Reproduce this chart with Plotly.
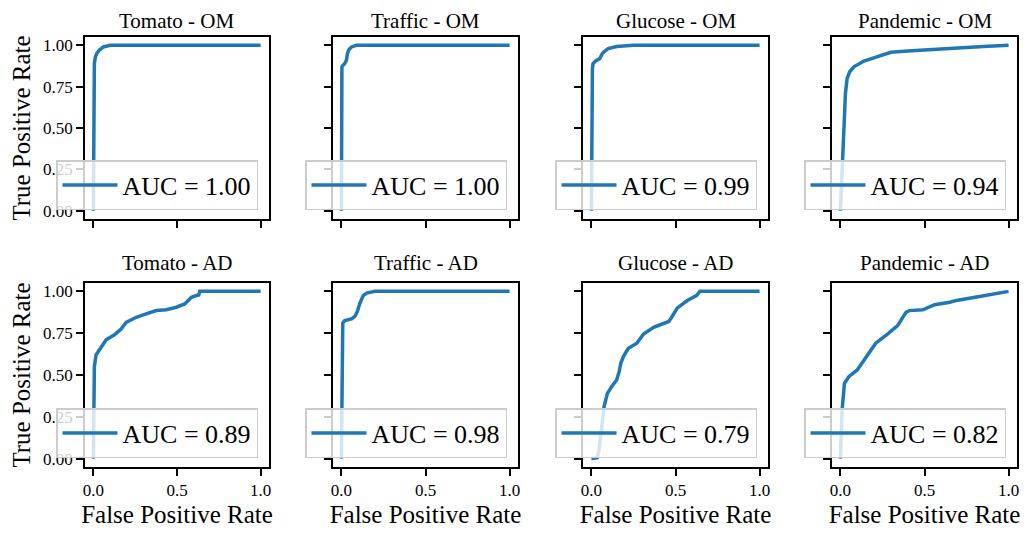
import plotly.graph_objects as go

# ---------------- data ----------------
titles = ["Tomato - OM", "Traffic - OM", "Glucose - OM", "Pandemic - OM",
          "Tomato - AD", "Traffic - AD", "Glucose - AD", "Pandemic - AD"]
auc_labels = ["AUC = 1.00", "AUC = 1.00", "AUC = 0.99", "AUC = 0.94",
              "AUC = 0.89", "AUC = 0.98", "AUC = 0.79", "AUC = 0.82"]

tomato_om_fpr = [0, 0.003, 0.006, 0.012, 0.02, 0.035, 0.06, 0.1, 1]
tomato_om_tpr = [0, 0.86, 0.89, 0.93, 0.95, 0.97, 0.99, 1, 1]

traffic_om_fpr = [0, 0.003, 0.01, 0.02, 0.03, 0.036, 0.045, 0.06, 0.09, 1]
traffic_om_tpr = [0, 0.87, 0.88, 0.89, 0.91, 0.95, 0.975, 0.99, 1, 1]

glucose_om_fpr = [0, 0.003, 0.006, 0.01, 0.025, 0.05, 0.065, 0.08, 0.1, 0.15, 0.25, 1]
glucose_om_tpr = [0, 0.8, 0.86, 0.89, 0.905, 0.92, 0.95, 0.965, 0.98, 0.993, 1, 1]

pandemic_om_fpr = [0, 0.01, 0.02, 0.03, 0.04, 0.055, 0.08, 0.11, 0.14, 0.18, 0.22, 0.26,
                   0.3, 0.4, 0.5, 0.7, 0.85, 1]
pandemic_om_tpr = [0, 0.27, 0.5, 0.71, 0.8, 0.84, 0.87, 0.89, 0.905, 0.918, 0.93, 0.945,
                   0.958, 0.965, 0.972, 0.985, 0.992, 1]

tomato_ad_fpr = [0, 0.003, 0.006, 0.016, 0.046, 0.076, 0.126, 0.166, 0.196, 0.256, 0.316,
                 0.376, 0.436, 0.496, 0.546, 0.586, 0.616, 0.63, 0.636, 1]
tomato_ad_tpr = [0, 0.3, 0.55, 0.62, 0.67, 0.71, 0.74, 0.775, 0.815, 0.845, 0.865,
                 0.885, 0.89, 0.905, 0.925, 0.965, 0.975, 0.978, 1, 1]

traffic_ad_fpr = [0, 0.003, 0.008, 0.02, 0.04, 0.06, 0.08, 0.095, 0.11, 0.13, 0.15, 0.2, 1]
traffic_ad_tpr = [0, 0.78, 0.81, 0.825, 0.83, 0.835, 0.85, 0.88, 0.93, 0.975, 0.99, 1, 1]

glucose_ad_fpr = [0, 0.035, 0.045, 0.055, 0.065, 0.075, 0.095, 0.12, 0.15, 0.165, 0.175, 0.19,
                  0.22, 0.27, 0.31, 0.37, 0.46, 0.48, 0.51, 0.57, 0.61, 0.625, 0.645, 1]
glucose_ad_tpr = [0, 0.005, 0.05, 0.12, 0.22, 0.31, 0.39, 0.43, 0.47, 0.52, 0.57, 0.61,
                  0.66, 0.69, 0.745, 0.785, 0.82, 0.85, 0.9, 0.945, 0.965, 0.975, 1, 1]

pandemic_ad_fpr = [0, 0.01, 0.024, 0.03, 0.05, 0.1, 0.14, 0.18, 0.21, 0.28, 0.34, 0.39, 0.41,
                   0.49, 0.56, 0.65, 0.69, 0.81, 0.93, 1]
pandemic_ad_tpr = [0, 0.29, 0.45, 0.46, 0.49, 0.53, 0.59, 0.65, 0.69, 0.745, 0.795, 0.875, 0.885,
                   0.89, 0.92, 0.935, 0.946, 0.966, 0.986, 1]

fprs = [tomato_om_fpr, traffic_om_fpr, glucose_om_fpr, pandemic_om_fpr,
        tomato_ad_fpr, traffic_ad_fpr, glucose_ad_fpr, pandemic_ad_fpr]
tprs = [tomato_om_tpr, traffic_om_tpr, glucose_om_tpr, pandemic_om_tpr,
        tomato_ad_tpr, traffic_ad_tpr, glucose_ad_tpr, pandemic_ad_tpr]

x_tickvals = [0, 0.5, 1.0]
x_ticktext = ["0.0", "0.5", "1.0"]
y_tickvals = [0, 0.25, 0.5, 0.75, 1.0]
y_ticktext = ["0.00", "0.25", "0.50", "0.75", "1.00"]

# ---------------- layout ----------------
OFF = 8                      # page body margin
W, H = 1029 - 2 * OFF, 536 - 2 * OFF
FONT = "Liberation Serif"
BLUE = "#1f77b4"

def px_x(p):
    return (p - OFF) / W

def px_y(p):
    return 1 - (p - OFF) / H

col_px = [(85, 269), (333, 518), (583, 768), (832, 1017)]
row_px = [(37, 219), (283, 467)]

fig = go.Figure()
layout = dict(
    width=W, height=H,
    margin=dict(l=0, r=0, t=0, b=0, autoexpand=False),
    paper_bgcolor="white", plot_bgcolor="white",
    font=dict(family=FONT, color="black"),
    showlegend=True,
    annotations=[],
)

for i in range(8):
    r, c = divmod(i, 4)
    n = i + 1
    xa = "x" if n == 1 else f"x{n}"
    ya = "y" if n == 1 else f"y{n}"
    lg = "legend" if n == 1 else f"legend{n}"
    x0, x1 = col_px[c]
    yt, yb = row_px[r]

    fig.add_trace(go.Scatter(
        x=fprs[i], y=tprs[i], mode="lines",
        line=dict(color=BLUE, width=3.5),
        name=auc_labels[i], xaxis=xa, yaxis=ya, legend=lg,
        showlegend=True,
    ))

    xkey = "xaxis" if n == 1 else f"xaxis{n}"
    ykey = "yaxis" if n == 1 else f"yaxis{n}"
    layout[xkey] = dict(
        domain=[px_x(x0), px_x(x1)], anchor=ya, range=[-0.05, 1.05],
        automargin=False,
        showgrid=False, zeroline=False,
        showline=True, linecolor="black", linewidth=1.5, mirror=True,
        ticks="outside", ticklen=7, tickwidth=1.5, tickcolor="black",
        tickvals=x_tickvals, ticktext=x_ticktext,
        showticklabels=(r == 1),
        tickfont=dict(family=FONT, size=17),
        title=dict(text="False Positive Rate" if r == 1 else "",
                   font=dict(family=FONT, size=25), standoff=16),
    )
    layout[ykey] = dict(
        domain=[px_y(yb), px_y(yt)], anchor=xa, range=[-0.05, 1.05],
        automargin=False,
        showgrid=False, zeroline=False,
        showline=True, linecolor="black", linewidth=1.5, mirror=True,
        ticks="outside", ticklen=7, tickwidth=1.5, tickcolor="black",
        tickvals=y_tickvals, ticktext=y_ticktext,
        showticklabels=(c == 0),
        tickfont=dict(family=FONT, size=17),
        title=dict(text="True Positive Rate" if c == 0 else "",
                   font=dict(family=FONT, size=25), standoff=13),
    )
    layout[lg] = dict(
        x=px_x(x1 - 11), y=px_y(yb - 9),
        xanchor="right", yanchor="bottom",
        bgcolor="rgba(255,255,255,0.8)",
        bordercolor="#cccccc", borderwidth=1.5,
        font=dict(family=FONT, size=26),
        itemwidth=55,
    )
    if r == 0:
        title_y, title_anchor = 1.0, "top"
    else:
        title_y, title_anchor = px_y(yt - 20), "middle"
    layout["annotations"].append(dict(
        text=titles[i], xref="paper", yref="paper",
        x=px_x((x0 + x1) / 2), y=title_y,
        xanchor="center", yanchor=title_anchor, showarrow=False,
        borderpad=0,
        font=dict(family=FONT, size=21),
    ))

fig.update_layout(**layout)
fig.write_html("out.html")
